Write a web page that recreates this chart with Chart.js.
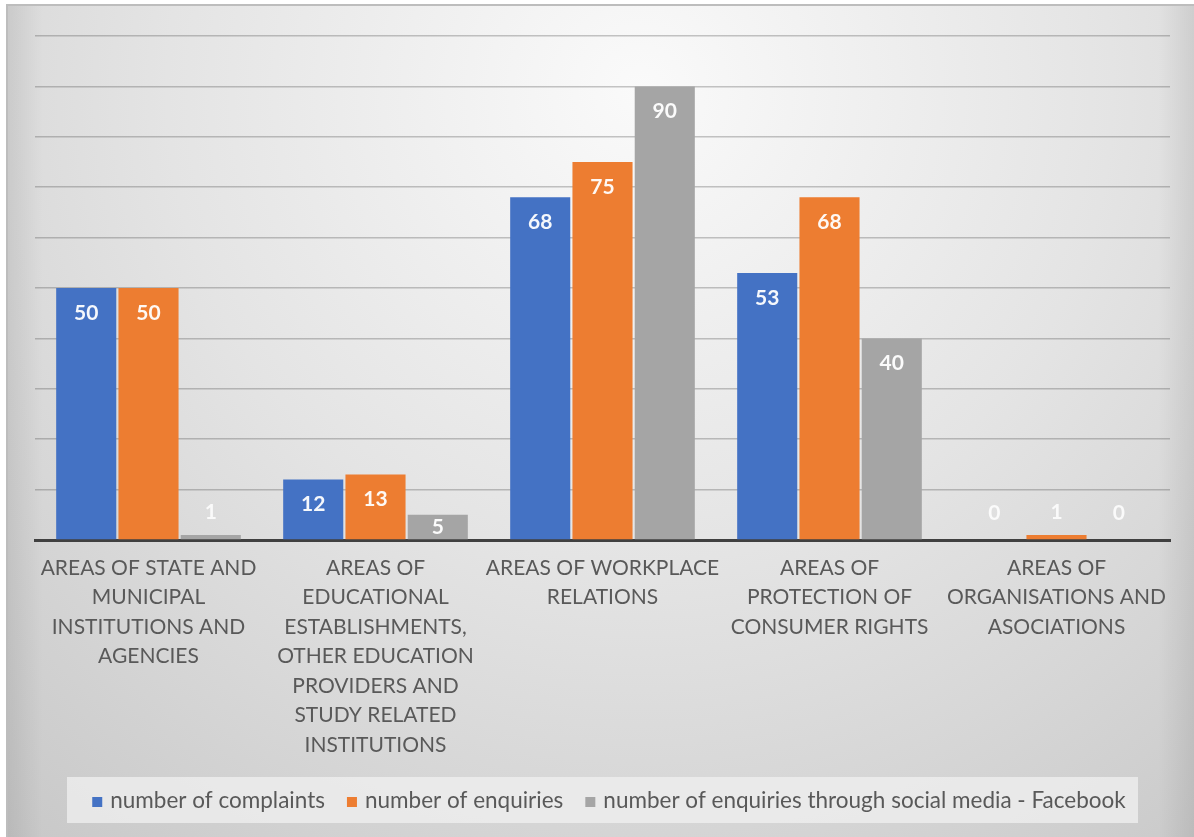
<!DOCTYPE html>
<html>
<head>
<meta charset="utf-8">
<script src="https://cdn.jsdelivr.net/npm/chart.js@4/dist/chart.umd.min.js"></script>
<style>
  html, body { margin: 0; padding: 0; background: #ffffff; }
  #wrap { width: 1194px; height: 837px; position: relative; }
</style>
</head>
<body>
<div id="wrap"><canvas id="c" width="1194" height="837"></canvas></div>
<script>
// ---- data ----
const categories = [
  ["AREAS OF STATE AND", "MUNICIPAL", "INSTITUTIONS AND", "AGENCIES"],
  ["AREAS OF", "EDUCATIONAL", "ESTABLISHMENTS,", "OTHER EDUCATION", "PROVIDERS AND", "STUDY RELATED", "INSTITUTIONS"],
  ["AREAS OF WORKPLACE", "RELATIONS"],
  ["AREAS OF", "PROTECTION OF", "CONSUMER RIGHTS"],
  ["AREAS OF", "ORGANISATIONS AND", "ASOCIATIONS"]
];
const seriesNames = [
  "number of complaints",
  "number of enquiries",
  "number of enquiries through social media - Facebook"
];
const complaints = [50, 12, 68, 53, 0];
const enquiries = [50, 13, 75, 68, 1];
const facebook = [1, 5, 90, 40, 0];
const yTicks = { min: 0, max: 100, step: 10 };

const colors = ["#4472C4", "#ED7D31", "#A5A5A5"];
const FONT = "Lato, 'Open Sans', sans-serif";

const bgPlugin = {
  id: "bg",
  beforeDraw(chart) {
    const ctx = chart.ctx;
    const W = chart.width, H = chart.height;
    ctx.save();
    ctx.fillStyle = "#ffffff";
    ctx.fillRect(0, 0, W, H);
    const g = ctx.createRadialGradient(640, 90, 0, 640, 90, 1050);
    g.addColorStop(0, "#fafafa");
    g.addColorStop(0.45, "#e4e4e4");
    g.addColorStop(1, "#c4c4c4");
    ctx.fillStyle = g;
    ctx.fillRect(7, 5, W - 7, H - 5);
    const lg = ctx.createLinearGradient(7, 0, W, 0);
    lg.addColorStop(0, "rgba(0,0,0,0.08)");
    lg.addColorStop(0.03, "rgba(0,0,0,0)");
    lg.addColorStop(0.97, "rgba(0,0,0,0)");
    lg.addColorStop(1, "rgba(0,0,0,0.08)");
    ctx.fillStyle = lg;
    ctx.fillRect(7, 5, W - 7, H - 5);
    ctx.strokeStyle = "#bdbdbd";
    ctx.lineWidth = 2;
    ctx.beginPath();
    ctx.moveTo(7, H);
    ctx.lineTo(7, 5);
    ctx.lineTo(W, 5);
    ctx.stroke();
    ctx.restore();
  }
};

const labelPlugin = {
  id: "valueLabels",
  afterDatasetsDraw(chart) {
    const ctx = chart.ctx;
    ctx.save();
    ctx.font = "bold 21px " + FONT;
    ctx.textAlign = "center";
    ctx.textBaseline = "middle";
    chart.data.datasets.forEach((ds, di) => {
      const meta = chart.getDatasetMeta(di);
      meta.data.forEach((bar, i) => {
        const v = ds.data[i];
        const top = bar.y, base = bar.base;
        const h = base - top;
        let cy;
        if (h >= 50) cy = top + 25;
        else if (h >= 18) cy = (top + base) / 2;
        else cy = base - 27;
        ctx.fillStyle = h >= 18 ? "rgba(255,255,255,0.95)" : "rgba(255,255,255,0.85)";
        ctx.fillText(String(v), bar.x, cy);
      });
    });
    ctx.restore();
  }
};

const legendPlugin = {
  id: "customLegend",
  afterDraw(chart) {
    const ctx = chart.ctx;
    ctx.save();
    const bx = 67, by = 777, bw = 1071, bh = 46;
    ctx.fillStyle = "rgba(240,240,240,0.75)";
    ctx.fillRect(bx, by, bw, bh);
    ctx.font = "22.5px " + FONT;
    ctx.textBaseline = "middle";
    ctx.textAlign = "left";
    const box = 10, gapBox = 8, gapItem = 22;
    const items = chart.data.datasets.map(d => ({ label: d.label, color: d.backgroundColor, w: ctx.measureText(d.label).width }));
    let total = 0;
    items.forEach((it, k) => { total += box + gapBox + it.w + (k < items.length - 1 ? gapItem : 0); });
    let x = 609 - total / 2;
    const cy = 801;
    items.forEach(it => {
      ctx.fillStyle = it.color;
      ctx.fillRect(x, cy - 4, box, box);
      x += box + gapBox;
      ctx.fillStyle = "#595959";
      ctx.fillText(it.label, x, cy);
      x += it.w + gapItem;
    });
    ctx.restore();
  }
};

new Chart(document.getElementById("c"), {
  type: "bar",
  data: {
    labels: categories,
    datasets: [
      { label: seriesNames[0], data: complaints, backgroundColor: colors[0] },
      { label: seriesNames[1], data: enquiries, backgroundColor: colors[1] },
      { label: seriesNames[2], data: facebook, backgroundColor: colors[2] }
    ]
  },
  options: {
    responsive: false,
    animation: false,
    devicePixelRatio: 1,
    layout: { padding: { left: 35, right: 24, top: 36, bottom: 0 } },
    datasets: { bar: { categoryPercentage: 0.823, barPercentage: 0.965 } },
    plugins: { legend: { display: false }, tooltip: { enabled: false } },
    scales: {
      x: {
        grid: { display: false, drawTicks: false },
        border: { display: true, color: "#404040", width: 3 },
        ticks: {
          color: "#595959",
          font: { family: FONT, size: 21, lineHeight: 29.5 / 21 },
          padding: 13,
          maxRotation: 0,
          minRotation: 0,
          autoSkip: false
        },
        afterFit(scale) { scale.height = 297; }
      },
      y: {
        min: yTicks.min,
        max: yTicks.max,
        ticks: { stepSize: yTicks.step, display: false },
        grid: { color: "rgba(70,70,70,0.3)", lineWidth: 1.5, drawTicks: false },
        border: { display: false },
        afterFit(scale) { scale.width = 0; }
      }
    }
  },
  plugins: [bgPlugin, labelPlugin, legendPlugin]
});
</script>
</body>
</html>
